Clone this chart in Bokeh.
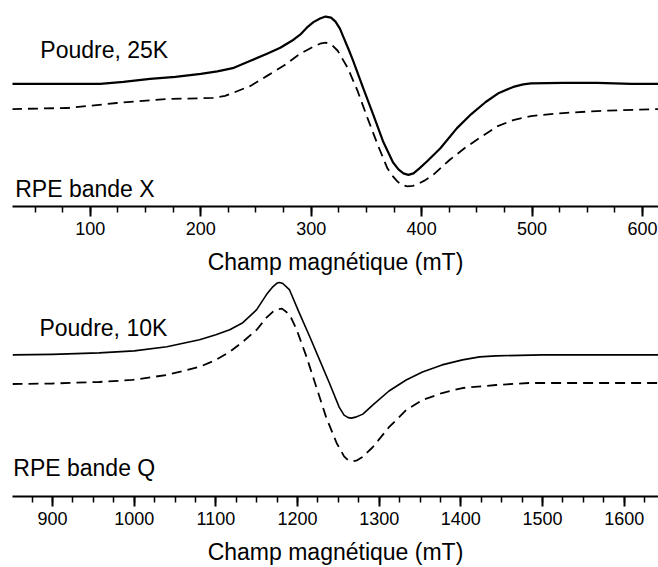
from bokeh.plotting import figure
from bokeh.layouts import column
from bokeh.models import Range1d, Label, SingleIntervalTicker
from bokeh.embed import file_html
from bokeh.resources import INLINE

# ---- X band (25 K) ----
xband_field_exp = [29, 60, 109, 130, 154, 177, 200, 215, 230, 245, 260, 272, 284, 290, 296, 302, 308, 313, 318,
                   322, 326, 329, 334, 338, 347, 356, 365, 374, 379, 383.5, 388, 392.6, 398, 405, 417, 432,
                   445, 458, 470, 483, 492, 499, 528, 559, 590, 615]
xband_signal_exp = [122, 122, 122, 124, 127, 129, 132, 134.5, 138, 145, 152, 158, 166, 171, 178, 183.5, 187, 189,
                    188, 184, 177, 169, 156, 145, 118, 92, 65, 44, 37, 33, 31.5, 33, 38, 45, 58, 78,
                    92, 104, 113, 119, 121.5, 122.5, 123, 123, 122, 122]
xband_field_sim = [29, 79, 124, 170, 211, 222, 229, 245, 260, 275, 290, 302, 308, 313, 318, 324, 333, 342, 351,
                   360, 369, 374, 378, 382, 387, 392, 396, 403, 411, 425, 440, 455, 469, 483, 499, 528, 559, 615]
xband_signal_sim = [97, 98, 103, 107, 108, 110, 113, 120, 130, 140, 152, 159, 162, 163, 161.5, 155, 138, 115, 88,
                    62, 38, 30, 25, 21.5, 20, 20.5, 22, 26, 32, 46, 59, 70, 80, 86, 90, 93, 95, 97]

# ---- Q band (10 K) ----
qband_field_exp = [851, 900, 957, 1000, 1040, 1080, 1100, 1117, 1133, 1150, 1162, 1170, 1175, 1178, 1182, 1190,
                   1202, 1215, 1227, 1239, 1251, 1257, 1262, 1266, 1271, 1280, 1292, 1312, 1333, 1353, 1377,
                   1402, 1423, 1443, 1500, 1642]
qband_signal_exp = [141, 141.5, 143, 145, 149, 156, 161, 166, 173, 186, 201, 209, 212.5, 213, 212, 206,
                    183, 159, 136, 113, 89, 81, 78.5, 78, 79, 82, 91, 105, 116, 124, 131,
                    136, 139, 140, 141, 141]
qband_field_sim = [851, 900, 957, 998, 1040, 1080, 1100, 1117, 1133, 1150, 1162, 1170, 1176, 1181, 1186, 1192,
                   1199, 1211, 1223, 1235, 1248, 1257, 1262, 1267, 1273, 1279, 1292, 1312, 1333, 1353, 1377,
                   1402, 1443, 1484, 1642]
qband_signal_sim = [112, 112.5, 114, 116, 121, 129, 136, 144, 154, 166, 178, 184, 186.5, 187, 184, 178,
                    166, 139, 109, 79, 53, 40, 36, 35, 36, 39, 49, 69, 86, 96, 103,
                    108, 111, 113, 113]

axis_title = "Champ magnétique (mT)"
FONT = "Liberation Sans"


def make_panel(xr, yr, height, fx, fy, sx, sy, exp_width, sample_text, sample_pos, band_text, band_pos):
    p = figure(width=658, height=height, x_range=Range1d(*xr), y_range=Range1d(*yr),
               output_backend="svg", toolbar_location=None, y_axis_location=None,
               min_border_left=12, min_border_right=0, min_border_top=0, min_border_bottom=0)
    p.outline_line_color = None
    p.grid.visible = False
    p.background_fill_color = "white"
    p.border_fill_color = "white"

    ax = p.xaxis[0]
    ax.ticker = SingleIntervalTicker(interval=100, num_minor_ticks=4)
    ax.axis_label = axis_title
    ax.axis_label_text_font = FONT
    ax.axis_label_text_font_size = "23px"
    ax.axis_label_text_font_style = "normal"
    ax.axis_label_text_color = "black"
    ax.axis_label_standoff = 11
    ax.major_label_text_font = FONT
    ax.major_label_text_font_size = "18px"
    ax.major_label_text_color = "black"
    ax.major_label_standoff = 5
    ax.axis_line_width = 2
    ax.axis_line_color = "black"
    ax.major_tick_in = 0
    ax.major_tick_out = 10
    ax.major_tick_line_width = 2
    ax.minor_tick_in = 0
    ax.minor_tick_out = 6
    ax.minor_tick_line_width = 1.5

    p.line(fx, fy, line_color="black", line_width=exp_width, line_join="round")
    p.line(sx, sy, line_color="black", line_width=1.8, line_dash="10 6")

    for txt, pos in ((sample_text, sample_pos), (band_text, band_pos)):
        p.add_layout(Label(x=pos[0], y=pos[1], text=txt, text_font=FONT, text_font_size="23px",
                           text_color="black", text_align="left", text_baseline="alphabetic"))
    return p


top = make_panel((29.5, 614.5), (0, 205), 277, xband_field_exp, xband_signal_exp,
                 xband_field_sim, xband_signal_sim, 2.2,
                 "Poudre, 25K", (54.7, 156), "RPE bande X", (32, 17))
bottom = make_panel((851, 1642), (0, 218), 290, qband_field_exp, qband_signal_exp,
                    qband_field_sim, qband_signal_sim, 1.6,
                    "Poudre, 10K", (884, 168), "RPE bande Q", (852, 28))

layout = column(top, bottom, spacing=0)
open("out.html", "w").write(file_html(layout, INLINE))
